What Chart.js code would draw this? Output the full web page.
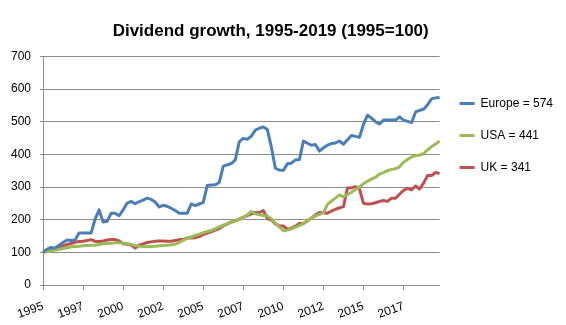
<!DOCTYPE html>
<html>
<head>
<meta charset="utf-8">
<script src="https://cdn.jsdelivr.net/npm/chart.js@4"></script>
<style>
  html, body { margin: 0; padding: 0; background: #fff; }
  #wrap { width: 566px; height: 325px; position: relative; }
</style>
</head>
<body>
<div id="wrap"><canvas id="myChart"></canvas></div>
<script>
// quarterly index, 1995 Q1 = 100
const europe = [
  100, 110, 115, 113, 122, 130, 138, 136, 138, 159,
  159, 159, 159, 202, 230, 193, 195, 220, 220, 212,
  230, 251, 256, 249, 255, 260, 266, 262, 254, 239,
  244, 241, 235, 228, 220, 220, 220, 248, 243, 248,
  253, 305, 306, 307, 314, 364, 368, 372, 383, 439,
  449, 446, 456, 474, 480, 484, 476, 422, 358, 352,
  351, 371, 373, 383, 384, 441, 434, 428, 430, 410,
  420, 428, 433, 435, 441, 431, 445, 458, 455, 452,
  492, 520, 511, 500, 493, 505, 505, 505, 505, 515,
  505, 501, 497, 530, 535, 538, 552, 570, 573, 574,
];
const usa = [
  100, 102, 104, 107, 109, 112, 114, 117, 118, 119,
  120, 121, 122, 122, 124, 126, 127, 128, 129, 129,
  128, 127, 124, 121, 119, 118, 117, 118, 119, 120,
  121, 122, 123, 125, 130, 137, 143, 147, 152, 156,
  160, 164, 167, 172, 178, 183, 188, 192, 196, 200,
  207, 215, 225, 218, 215, 213, 211, 203, 190, 178,
  166, 168, 172, 177, 182, 188, 197, 205, 211, 216,
  221, 247, 257, 266, 276, 270, 277, 284, 292, 300,
  310, 318, 324, 330, 340, 344, 350, 354, 356, 362,
  376, 384, 392, 396, 398, 402, 414, 424, 432, 441,
];
const uk = [
  100, 106, 110, 113, 117, 120, 124, 127, 131, 133,
  134, 136, 139, 134, 133, 135, 138, 139, 139, 135,
  126, 125, 122, 113, 122, 126, 130, 132, 134, 135,
  135, 134, 134, 136, 139, 139, 144, 144, 145, 148,
  154, 159, 163, 168, 173, 181, 187, 193, 197, 202,
  208, 212, 218, 222, 222, 228, 203, 200, 187, 181,
  181, 170, 174, 180, 188, 188, 196, 205, 214, 222,
  221, 220, 226, 232, 236, 240, 297, 298, 301, 294,
  250, 248, 249, 252, 256, 259, 256, 266, 266, 278,
  290, 296, 291, 303, 294, 312, 335, 335, 345, 341,
];
const seriesNames = ["Europe = 574", "USA = 441", "UK = 341"];
const seriesColors = ["#4a7ebb", "#9bbb59", "#c0504d"];

// category labels: one per quarter, shown as the year
const quarters = [];
for (let y = 1995; y <= 2019; y++) {
  for (let q = 0; q < 4; q++) quarters.push(String(y));
}

const gridGray = "#8c8c8c";
const font = { family: "Liberation Sans", size: 12 };

const ctx = document.getElementById("myChart").getContext("2d");
const myChart = new Chart(ctx, {
  type: "line",
  data: {
    labels: quarters,
    datasets: [europe, usa, uk].map((d, i) => ({
      label: seriesNames[i],
      data: d,
      borderColor: seriesColors[i],
      backgroundColor: seriesColors[i],
      borderWidth: 3,
      pointRadius: 0,
      tension: 0,
      borderJoinStyle: "round",
    })),
  },
  options: {
    responsive: true,
    maintainAspectRatio: false,
    animation: false,
    layout: { padding: { left: 2, right: 3, top: 0, bottom: 0 } },
    plugins: {
      title: {
        display: true,
        // trailing spaces nudge the centred title a bit left, like the original
        text: "Dividend growth, 1995-2019 (1995=100)\u00a0\u00a0\u00a0\u00a0\u00a0",
        color: "#000",
        font: { family: "Liberation Sans", size: 17, weight: "bold" },
        padding: { top: 21, bottom: 15 },
      },
      legend: {
        position: "right",
        align: "start",
        title: { display: true, text: "", padding: { top: 63, bottom: 0 } },
        labels: {
          usePointStyle: true,
          pointStyle: "line",
          pointStyleWidth: 15,
          padding: 20,
          color: "#000",
          font: font,
        },
      },
      tooltip: { enabled: false },
    },
    scales: {
      x: {
        grid: {
          drawOnChartArea: false,
          color: gridGray,
          tickLength: 5,
        },
        border: { color: gridGray },
        ticks: {
          autoSkip: false,
          maxRotation: 20,
          minRotation: 20,
          padding: 9,
          color: "#000",
          font: font,
          callback: function (val, i) {
            return i % 10 === 0 ? this.getLabelForValue(val) : null;
          },
        },
        // keep the plot bottom where the original has it
        afterFit: (scale) => {
          scale.height = 40;
        },
      },
      y: {
        min: 0,
        max: 700,
        grid: { color: gridGray, tickLength: 3 },
        border: { color: gridGray },
        ticks: { stepSize: 100, padding: 9, color: "#000", font: font },
      },
    },
  },
});
</script>
</body>
</html>
